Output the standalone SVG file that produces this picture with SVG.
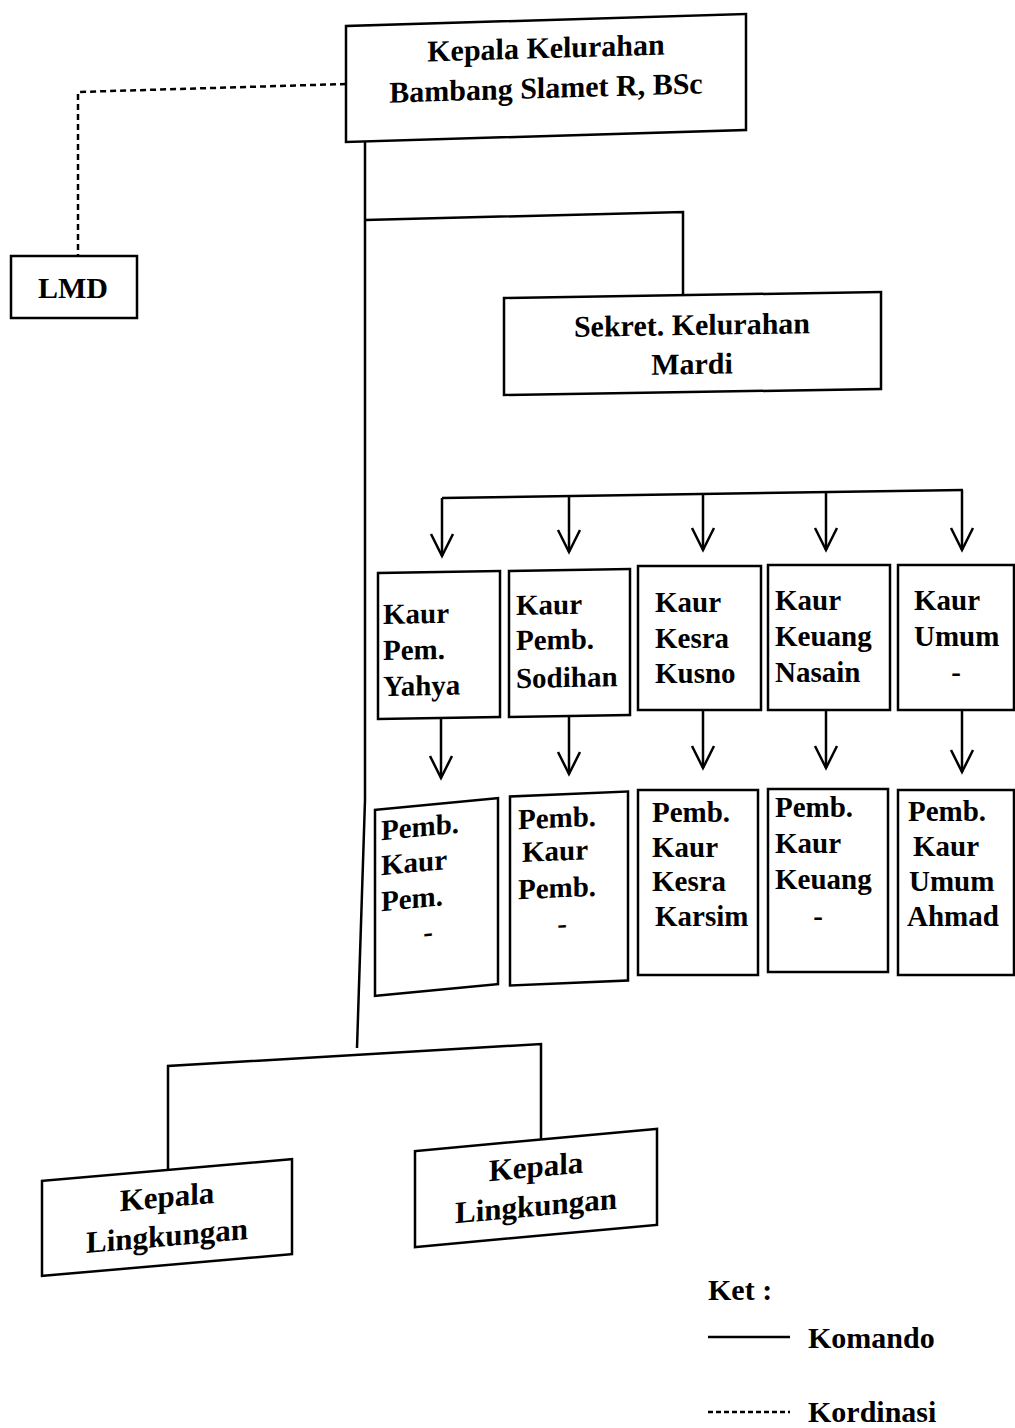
<svg xmlns="http://www.w3.org/2000/svg" width="1015" height="1428" viewBox="0 0 1015 1428">
<style>
.box{fill:#fff;stroke:#000;stroke-width:2.5}
.t{font-family:"Liberation Serif","Times New Roman",serif;font-weight:bold;font-size:30px;fill:#000}
.c{text-anchor:middle}
.s{font-size:29px}
.ln{fill:none;stroke:#000;stroke-width:2.5}
.dash{fill:none;stroke:#000;stroke-width:2.5;stroke-dasharray:6 4}
</style>
<defs>
<marker id="ah" markerUnits="userSpaceOnUse" markerWidth="30" markerHeight="30" refX="26" refY="15" orient="auto" viewBox="0 0 30 30">
<path d="M4 4 L26 15 L4 26" fill="none" stroke="#000" stroke-width="2.5"/>
</marker>
</defs>
<g id="connectors">
<path class="dash" d="M346 84 L78 92 L78 255"/>
<path class="ln" d="M365 140 L365 800 L357 1048"/>
<path class="ln" d="M365 220 L683 212 L683 296"/>
<path class="ln" d="M442 498 L963 490"/>
<path class="ln" d="M442 498 L442 556" marker-end="url(#ah)"/>
<path class="ln" d="M569 496 L569 552" marker-end="url(#ah)"/>
<path class="ln" d="M703 494 L703 550" marker-end="url(#ah)"/>
<path class="ln" d="M826 492 L826 550" marker-end="url(#ah)"/>
<path class="ln" d="M962 490 L962 550" marker-end="url(#ah)"/>
<path class="ln" d="M441 718 L441 778" marker-end="url(#ah)"/>
<path class="ln" d="M569 716 L569 774" marker-end="url(#ah)"/>
<path class="ln" d="M703 710 L703 768" marker-end="url(#ah)"/>
<path class="ln" d="M826 710 L826 768" marker-end="url(#ah)"/>
<path class="ln" d="M962 710 L962 772" marker-end="url(#ah)"/>
<path class="ln" d="M168 1180 L168 1066 L541 1044 L541 1150"/>
</g>
<g id="kepala-kelurahan" transform="translate(546 78) skewY(-1.7) translate(-546 -78)">
<rect class="box" x="346" y="20" width="400" height="116"/>
<text class="t c" x="546" y="58">Kepala Kelurahan</text>
<text class="t c" x="546" y="98">Bambang Slamet R, BSc</text>
</g>
<g id="lmd">
<rect class="box" x="11" y="256" width="126" height="62"/>
<text class="t c" x="73" y="298">LMD</text>
</g>
<g id="sekret" transform="translate(692 343) skewY(-0.9) translate(-692 -343)">
<rect class="box" x="504" y="295" width="377" height="97"/>
<text class="t c" x="692" y="335">Sekret. Kelurahan</text>
<text class="t c" x="692" y="374">Mardi</text>
</g>
<g id="kaur-pem" transform="translate(439 645) skewY(-1) translate(-439 -645)">
<rect class="box" x="378" y="572" width="122" height="146"/>
<text class="t s" x="383" y="623">Kaur</text>
<text class="t s" x="383" y="659">Pem.</text>
<text class="t s" x="383" y="695">Yahya</text>
</g>
<g id="kaur-pemb" transform="translate(570 643) skewY(-1) translate(-570 -643)">
<rect class="box" x="509" y="570" width="121" height="146"/>
<text class="t s" x="516" y="614">Kaur</text>
<text class="t s" x="516" y="649">Pemb.</text>
<text class="t s" x="516" y="687">Sodihan</text>
</g>
<g id="kaur-kesra">
<rect class="box" x="638" y="566" width="123" height="144"/>
<text class="t s" x="655" y="612">Kaur</text>
<text class="t s" x="655" y="648">Kesra</text>
<text class="t s" x="655" y="683">Kusno</text>
</g>
<g id="kaur-keuang">
<rect class="box" x="768" y="565" width="122" height="145"/>
<text class="t s" x="775" y="610">Kaur</text>
<text class="t s" x="775" y="646">Keuang</text>
<text class="t s" x="775" y="682">Nasain</text>
</g>
<g id="kaur-umum">
<rect class="box" x="898" y="565" width="116" height="145"/>
<text class="t s" x="914" y="610">Kaur</text>
<text class="t s" x="914" y="646">Umum</text>
<text class="t s c" x="956" y="682">-</text>
</g>
<g id="pemb-kaur-pem" transform="translate(436 897) skewY(-5.5) translate(-436 -897)">
<rect class="box" x="375" y="804" width="123" height="186"/>
<text class="t s" x="381" y="835">Pemb.</text>
<text class="t s" x="381" y="870">Kaur</text>
<text class="t s" x="381" y="906">Pem.</text>
<text class="t s c" x="428" y="941">-</text>
</g>
<g id="pemb-kaur-pemb" transform="translate(569 888) skewY(-2.4) translate(-569 -888)">
<rect class="box" x="510" y="794" width="118" height="189"/>
<text class="t s" x="518" y="827">Pemb.</text>
<text class="t s" x="522" y="860">Kaur</text>
<text class="t s" x="518" y="897">Pemb.</text>
<text class="t s c" x="562" y="933">-</text>
</g>
<g id="pemb-kaur-kesra">
<rect class="box" x="638" y="790" width="120" height="185"/>
<text class="t s" x="652" y="822">Pemb.</text>
<text class="t s" x="652" y="857">Kaur</text>
<text class="t s" x="652" y="891">Kesra</text>
<text class="t s" x="655" y="926">Karsim</text>
</g>
<g id="pemb-kaur-keuang">
<rect class="box" x="768" y="789" width="120" height="183"/>
<text class="t s" x="775" y="817">Pemb.</text>
<text class="t s" x="775" y="853">Kaur</text>
<text class="t s" x="775" y="889">Keuang</text>
<text class="t s c" x="818" y="926">-</text>
</g>
<g id="pemb-kaur-umum">
<rect class="box" x="898" y="790" width="116" height="185"/>
<text class="t s" x="908" y="821">Pemb.</text>
<text class="t s" x="913" y="856">Kaur</text>
<text class="t s" x="909" y="891">Umum</text>
<text class="t s" x="907" y="926">Ahmad</text>
</g>
<g id="kepala-lingkungan-1" transform="translate(167 1217) skewY(-5) translate(-167 -1217)">
<rect class="box" x="42" y="1170" width="250" height="95"/>
<text class="t c" x="167" y="1207" style="font-size:31px">Kepala</text>
<text class="t c" x="167" y="1246" style="font-size:31px">Lingkungan</text>
</g>
<g id="kepala-lingkungan-2" transform="translate(536 1188) skewY(-5.2) translate(-536 -1188)">
<rect class="box" x="415" y="1140" width="242" height="96"/>
<text class="t c" x="536" y="1177" style="font-size:31px">Kepala</text>
<text class="t c" x="536" y="1216" style="font-size:31px">Lingkungan</text>
</g>
<g id="legend">
<text class="t" x="708" y="1300">Ket :</text>
<path class="ln" d="M708 1337 L790 1337"/>
<text class="t" x="808" y="1348">Komando</text>
<path class="dash" d="M708 1412 L790 1412" style="stroke-dasharray:5 3"/>
<text class="t" x="808" y="1422">Kordinasi</text>
</g>
</svg>
